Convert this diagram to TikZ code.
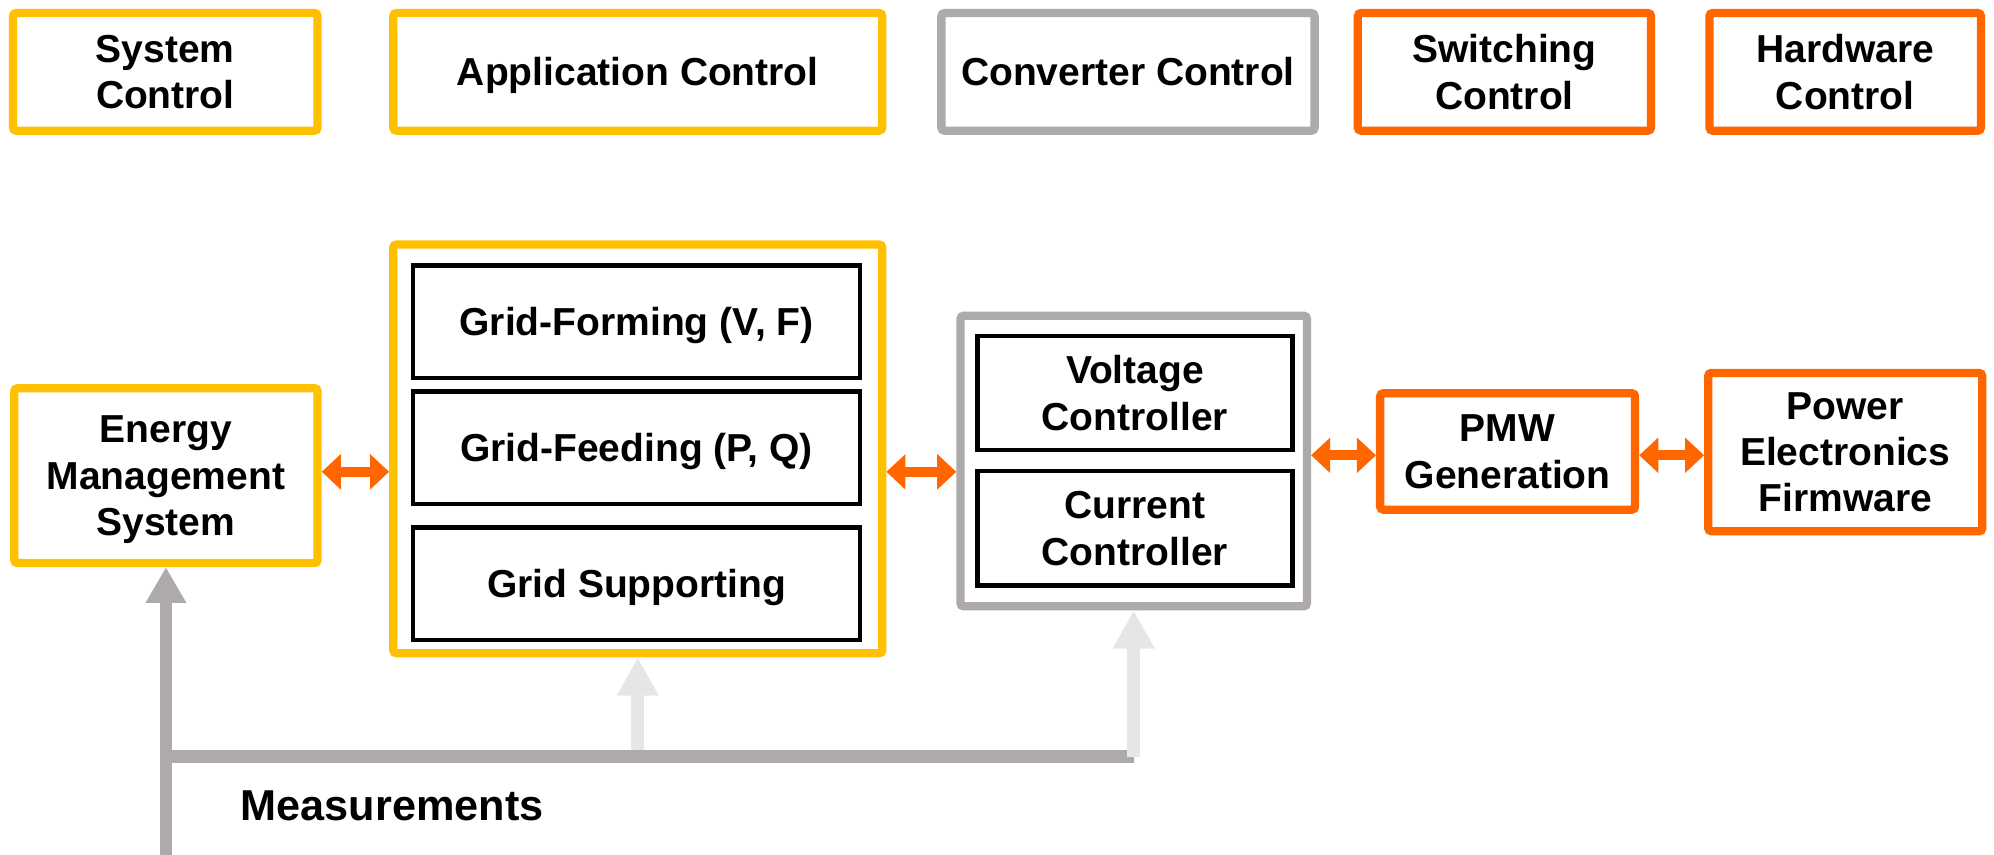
\documentclass[tikz,border=0pt]{standalone}
\usepackage{fontspec}
\setmainfont{Liberation Sans}
\usetikzlibrary{arrows.meta,calc}
\definecolor{cyellow}{HTML}{FFC000}
\definecolor{corange}{HTML}{FF6600}
\definecolor{cgray}{HTML}{AEAAAA}
\definecolor{clight}{HTML}{E6E6E6}

\begin{document}
\begin{tikzpicture}[x=0.6pt,y=-0.6pt,
  every node/.style={font=\fontsize{18.4}{21.9}\selectfont\bfseries, align=center, inner sep=0pt, text depth=0pt},
  frame/.style={draw, line width=3.9pt, rounded corners=1.5pt, fill=white},
  yframe/.style={frame, draw=cyellow},
  gframe/.style={frame, draw=cgray},
  oframe/.style={frame, draw=corange},
  inbox/.style={draw=black, line width=2.1pt, fill=white, minimum width=210.9pt, minimum height=53.1pt},
  cbox/.style={draw=black, line width=2.1pt, fill=white, minimum width=148.5pt, minimum height=54pt},
  toprow/.style={minimum height=55.5pt},
  oarrow/.style={draw=corange, line width=4.8pt, {Triangle[length=9pt,width=16.2pt]}-{Triangle[length=9pt,width=16.2pt]}},
  garrow/.style={draw=cgray, line width=6pt, -{Triangle[length=16.8pt,width=18pt]}},
  larrow/.style={draw=clight, line width=6pt, -{Triangle[length=18pt,width=18.6pt]}},
  ]
\useasboundingbox (0,0) rectangle (1568,672);

% legend row
\node[yframe, toprow, minimum width=143.7pt] (sys)   at (130,56.5)   {System\\Control};
\node[yframe, toprow, minimum width=230.7pt] (appc)  at (501.5,56.5) {Application Control};
\node[gframe, toprow, minimum width=176.1pt] (convc) at (887,56.5)   {Converter Control};
\node[oframe, toprow, minimum width=138.3pt] (swc)   at (1183,56.5)  {Switching\\Control};
\node[oframe, toprow, minimum width=128.1pt] (hwc)   at (1451,56.5)  {Hardware\\Control};

% control chain
\node[yframe, minimum width=143.1pt, minimum height=82.5pt] (ems) at (130.5,374) {Energy\\Management\\System};

\node[yframe, minimum width=230.7pt, minimum height=192.9pt] (appouter) at (501.5,353) {};
\node[inbox] (gf)  at (500.5,253) {Grid-Forming (V, F)};
\node[inbox] (gfd) at (500.5,352) {Grid-Feeding (P, Q)};
\node[inbox] (gs)  at (500.5,459) {Grid Supporting};

\node[gframe, minimum width=163.5pt, minimum height=137.1pt] (convouter) at (891.5,362.5) {};
\node[cbox] (vc) at (892.5,309)   {Voltage\\Controller};
\node[cbox] (cc) at (892.5,415.5) {Current\\Controller};

\node[oframe, minimum width=120.3pt, minimum height=54.9pt] (pmw) at (1185.5,355) {PMW\\Generation};
\node[oframe, minimum width=129.3pt, minimum height=74.7pt] (pef) at (1451,355.5) {Power\\Electronics\\Firmware};

% levels of the bidirectional links
\coordinate (r1) at (0,371);
\coordinate (r2) at (0,358);
\draw[oarrow] (ems.east |- r1) -- (appouter.west |- r1);
\draw[oarrow] (appouter.east |- r1) -- (convouter.west |- r1);
\draw[oarrow] (convouter.east |- r2) -- (pmw.west |- r2);
\draw[oarrow] (pmw.east |- r2) -- (pef.west |- r2);

% measurement feedback
\coordinate (bar) at (0,595);
\coordinate (base) at (0,672);
\draw[cgray, line width=6pt] (ems.south |- bar) -- (convouter.south |- bar);
\draw[garrow] (ems.south |- base) -- (ems.south);
\draw[larrow] ($(appouter.south |- bar)+(0,-5)$) -- (appouter.south);
\draw[larrow] (convouter.south |- bar) -- (convouter.south);

\node[anchor=base west, font=\fontsize{20.4}{24}\selectfont\bfseries] (meas) at (189,645) {Measurements};
\end{tikzpicture}
\end{document}
